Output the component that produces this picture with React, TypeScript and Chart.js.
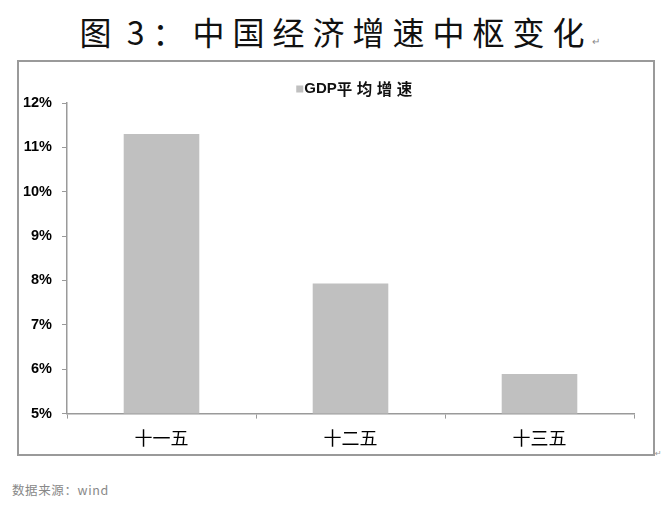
import React, { useEffect, useRef } from "react";
import { Chart, registerables } from "chart.js";

Chart.register(...registerables);

const titlePrefix = "图";
const titleNumber = "3：";
const titleMain = "中国经济增速中枢变化";
const sourceText = "数据来源：wind";
const categories = ["十一五", "十二五", "十三五"];
const seriesLabel = "GDP平均增速";
const gdpGrowth = [11.3, 7.93, 5.89];
const yMin = 5;
const yMax = 12;
const yStep = 1;
const barColor = "#c0c0c0";

const customLegend = {
  id: "customLegend",
  afterDraw(chart: any) {
    const ctx = chart.ctx as CanvasRenderingContext2D;
    const ds = chart.data.datasets[0];
    const label: string = ds.label;
    const m = label.match(/^([A-Za-z0-9]+)(.*)$/);
    const latin = m ? m[1] : "";
    const cjk = m ? m[2] : label;
    ctx.save();
    const font = "bold 15px 'Liberation Sans', sans-serif";
    const cjkFont = "bold 15.5px 'Noto Sans CJK SC', sans-serif";
    ctx.font = font;
    const wLatin = ctx.measureText(latin).width;
    ctx.font = cjkFont;
    (ctx as any).letterSpacing = "4.5px";
    const wCjk = ctx.measureText(cjk).width;
    const box = 7;
    const gap = 1;
    const total = box + gap + wLatin + wCjk;
    const ca = chart.chartArea;
    const cx = (ca.left + ca.right) / 2 + 6;
    const x0 = cx - total / 2;
    const cy = 27;
    ctx.fillStyle = ds.backgroundColor;
    ctx.fillRect(x0, cy - box / 2, box, box);
    ctx.fillStyle = "#111";
    ctx.textBaseline = "middle";
    ctx.textAlign = "left";
    (ctx as any).letterSpacing = "0px";
    ctx.font = font;
    ctx.fillText(latin, x0 + box + gap, cy);
    ctx.font = cjkFont;
    (ctx as any).letterSpacing = "4.5px";
    ctx.fillText(cjk, x0 + box + gap + wLatin, cy);
    ctx.restore();
  },
};

function GrowthChart() {
  const ref = useRef<HTMLCanvasElement | null>(null);
  useEffect(() => {
    if (!ref.current) return;
    const chart = new Chart(ref.current, {
      type: "bar",
      data: {
        labels: categories,
        datasets: [
          {
            label: seriesLabel,
            data: gdpGrowth,
            backgroundColor: barColor,
            borderWidth: 0,
            categoryPercentage: 1,
            barPercentage: 0.4,
          },
        ],
      },
      options: {
        responsive: false,
        animation: false,
        devicePixelRatio: 1,
        layout: { padding: { top: 41, right: 19, bottom: 0, left: 0 } },
        plugins: {
          legend: { display: false },
          tooltip: { enabled: false },
        },
        scales: {
          x: {
            grid: {
              display: true,
              drawOnChartArea: false,
              drawTicks: true,
              tickLength: 5,
              color: "#9a9a9a",
              offset: true,
            },
            border: { display: true, color: "#9a9a9a", width: 1.5 },
            ticks: {
              color: "#000",
              padding: 9,
              font: { family: "'Noto Sans CJK SC', sans-serif", size: 18 },
            },
            afterFit: (s: any) => {
              s.height = 40.4;
            },
          },
          y: {
            min: yMin,
            max: yMax,
            ticks: {
              stepSize: yStep,
              color: "#000",
              padding: 10,
              font: { family: "'Liberation Sans', sans-serif", size: 14.5, weight: "bold" },
              callback: (v: any) => `${v}%`,
            },
            grid: {
              display: true,
              drawOnChartArea: false,
              drawTicks: true,
              tickLength: 5,
              color: "#9a9a9a",
            },
            border: { display: true, color: "#9a9a9a", width: 1.5 },
            afterFit: (s: any) => {
              s.width = 48;
            },
          },
        },
      },
      plugins: [customLegend],
    });
    return () => chart.destroy();
  }, []);
  return <canvas ref={ref} width={634} height={392} style={{ display: "block" }} />;
}

export default function App() {
  return (
    <div
      style={{
        position: "absolute",
        left: 0,
        top: 0,
        width: 672,
        height: 515,
        background: "#fff",
        overflow: "hidden",
      }}
    >
      <div
        style={{
          position: "absolute",
          left: 4,
          top: 9,
          width: 672,
          textAlign: "center",
          fontFamily: "'Noto Sans CJK SC', sans-serif",
          fontSize: 32,
          fontWeight: 400,
          letterSpacing: 8,
          lineHeight: "44px",
          color: "#111",
          whiteSpace: "nowrap",
        }}
      >
        {titlePrefix}
        <span style={{ letterSpacing: 0 }}> </span>
        {titleNumber}
        {titleMain}
        <span style={{ fontSize: 10, color: "#888", letterSpacing: 0 }}>↵</span>
      </div>
      <div
        style={{
          position: "absolute",
          left: 17,
          top: 60,
          width: 634,
          height: 392,
          border: "2px solid #9a9a9a",
        }}
      >
        <GrowthChart />
      </div>
      <div
        style={{
          position: "absolute",
          left: 655,
          top: 449,
          fontSize: 8,
          color: "#999",
          fontFamily: "'DejaVu Sans', sans-serif",
        }}
      >
        ↵
      </div>
      <div
        style={{
          position: "absolute",
          left: 12,
          top: 481,
          fontFamily: "'Noto Sans CJK SC', sans-serif",
          fontSize: 12.5,
          letterSpacing: 0.6,
          color: "#888",
          lineHeight: "18px",
          whiteSpace: "nowrap",
        }}
      >
        {sourceText}
      </div>
    </div>
  );
}
